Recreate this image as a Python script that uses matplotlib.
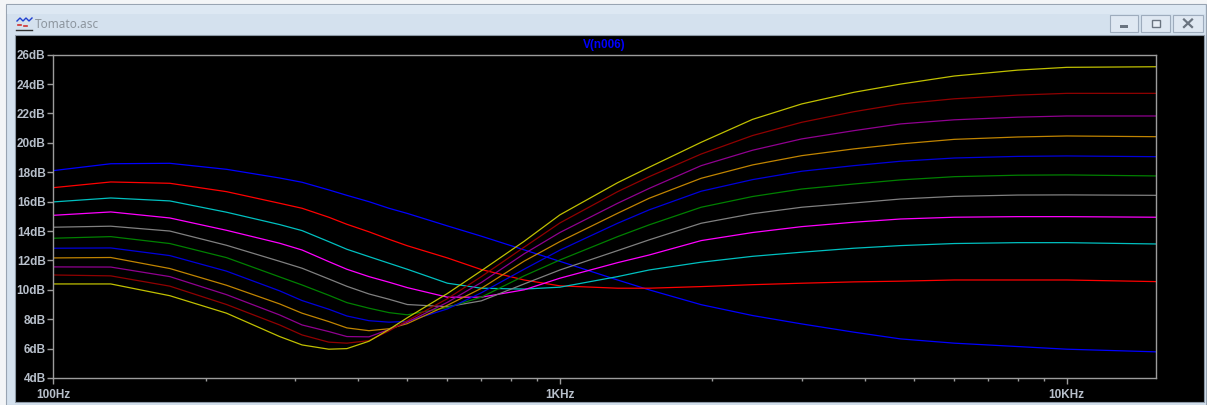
import matplotlib.pyplot as plt
from matplotlib.patches import Rectangle
from matplotlib.lines import Line2D
from matplotlib.ticker import FixedLocator, NullFormatter

plt.rcParams['font.family'] = ['Liberation Sans', 'DejaVu Sans']

# ---- data (dB vs Hz), one list per .step run ----
freq = [100, 130, 170, 220, 280, 310, 350, 380, 420, 460, 500, 600, 700, 850,
        1000, 1300, 1500, 1900, 2400, 3000, 3800, 4700, 6000, 8000, 10000, 15000]

step01 = [18.11, 18.58, 18.61, 18.20, 17.61, 17.32, 16.80, 16.43, 16.00, 15.55, 15.20,
          14.35, 13.65, 12.72, 11.94, 10.67, 10.00, 8.99, 8.25, 7.68, 7.12, 6.66,
          6.37, 6.14, 5.96, 5.78]
step02 = [16.95, 17.34, 17.25, 16.68, 15.89, 15.55, 14.94, 14.46, 13.95, 13.44, 13.00,
          12.17, 11.38, 10.67, 10.27, 10.11, 10.11, 10.22, 10.35, 10.45, 10.54, 10.59,
          10.67, 10.67, 10.67, 10.56]
step03 = [15.98, 16.25, 16.05, 15.28, 14.44, 14.03, 13.28, 12.76, 12.26, 11.81, 11.40,
          10.45, 10.11, 10.05, 10.18, 10.90, 11.35, 11.88, 12.28, 12.56, 12.83, 13.01,
          13.15, 13.21, 13.21, 13.12]
step04 = [15.07, 15.30, 14.89, 14.05, 13.17, 12.71, 11.92, 11.40, 10.90, 10.52, 10.15,
          9.50, 9.50, 10.00, 10.79, 11.85, 12.37, 13.35, 13.90, 14.30, 14.60, 14.82,
          14.94, 14.98, 14.98, 14.94]
step05 = [14.26, 14.33, 14.00, 13.03, 11.94, 11.47, 10.74, 10.24, 9.72, 9.36, 9.00,
          8.85, 9.25, 10.40, 11.35, 12.67, 13.40, 14.53, 15.18, 15.62, 15.91, 16.18,
          16.36, 16.45, 16.46, 16.43]
step06 = [13.51, 13.62, 13.15, 12.19, 10.88, 10.33, 9.63, 9.13, 8.75, 8.45, 8.30,
          8.80, 9.50, 10.95, 12.03, 13.62, 14.42, 15.62, 16.35, 16.86, 17.20, 17.48,
          17.70, 17.80, 17.82, 17.75]
step07 = [12.83, 12.85, 12.33, 11.27, 9.93, 9.27, 8.68, 8.22, 7.90, 7.80, 7.85,
          8.70, 9.80, 11.40, 12.70, 14.53, 15.44, 16.71, 17.50, 18.07, 18.45, 18.75,
          18.97, 19.08, 19.11, 19.06]
step08 = [12.17, 12.20, 11.45, 10.31, 9.04, 8.41, 7.84, 7.41, 7.22, 7.35, 7.70,
          8.95, 10.10, 11.95, 13.28, 15.21, 16.23, 17.59, 18.50, 19.13, 19.59, 19.93,
          20.24, 20.40, 20.47, 20.42]
step09 = [11.56, 11.55, 10.90, 9.67, 8.29, 7.61, 7.16, 6.82, 6.80, 7.30, 7.80,
          9.15, 10.50, 12.45, 13.90, 15.89, 16.90, 18.45, 19.50, 20.27, 20.83, 21.29,
          21.57, 21.75, 21.83, 21.83]
step10 = [11.01, 10.95, 10.25, 9.00, 7.61, 6.93, 6.44, 6.37, 6.54, 7.20, 7.90,
          9.40, 10.90, 12.90, 14.55, 16.68, 17.70, 19.24, 20.50, 21.40, 22.12, 22.65,
          23.00, 23.25, 23.37, 23.37]
step11 = [10.40, 10.40, 9.60, 8.41, 6.82, 6.25, 5.96, 6.00, 6.50, 7.30, 8.10,
          9.75, 11.30, 13.30, 15.10, 17.29, 18.34, 20.04, 21.60, 22.65, 23.44, 24.00,
          24.55, 24.95, 25.14, 25.18]

steps = [step01, step02, step03, step04, step05, step06,
         step07, step08, step09, step10, step11]
colors = ['#0000ff', '#ff0000', '#00c0c0', '#ff00ff', '#808080', '#008000',
          '#0000dc', '#c08400', '#900090', '#900000', '#c0c000']

xticks = [100, 1000, 10000]
xlabels = ['100Hz', '1KHz', '10KHz']
xminor = [200, 300, 400, 500, 600, 700, 800, 900,
          2000, 3000, 4000, 5000, 6000, 7000, 8000, 9000]
yticks = list(range(4, 27, 2))

W, H = 1207, 405


def box(x0, y0, x1, y1):
    # pixel box (top-left origin) -> figure fraction
    return (x0 / W, 1 - y1 / H), (x1 - x0) / W, (y1 - y0) / H


def rect(x0, y0, x1, y1, fc, ec='none', lw=0.8):
    xy, w, h = box(x0, y0, x1, y1)
    fig.add_artist(Rectangle(xy, w, h, transform=fig.transFigure,
                             facecolor=fc, edgecolor=ec, lw=lw, zorder=-2))


def pline(xs, ys, color, lw=1.0):
    fig.add_artist(Line2D([x / W for x in xs], [1 - y / H for y in ys],
                          transform=fig.transFigure, color=color, lw=lw, zorder=-1))


fig = plt.figure(figsize=(W / 100, H / 100), dpi=100, facecolor='#f3f5f7')

# window frame + title bar
rect(6, 4, 1206, 405, '#d4e1ee', ec='#98a4b2')
rect(7, 5, 1205, 14, '#dde8f3')
rect(15, 35, 1204, 402, 'black', ec='#8d99a6')

# little waveform icon
pline([17, 20, 23, 26, 29, 32], [21, 18, 21, 18, 21, 18], '#2040d0', 1.0)
pline([18, 21], [25, 25], '#d03030', 1.2)
pline([24, 27], [26, 26], '#d03030', 1.2)
pline([16, 32], [30, 30], '#303030', 1.0)
fig.text(35 / W, 1 - 24.5 / H, 'Tomato.asc', color='#8d969f', fontsize=8.5,
         family='Noto Sans', va='center', ha='left')

# window buttons
for x0, x1 in [(1110, 1138), (1141, 1170), (1173, 1203)]:
    rect(x0, 15, x1, 32, '#dfe8f2', ec='#9eacbd')
rect(1120, 25, 1128, 27.5, '#6a7480')
rect(1152, 20, 1160, 27, '#e8eef5', ec='#6a7480', lw=1.0)
pline([1184, 1192], [19.5, 27], '#6a7480', 1.6)
pline([1184, 1192], [27, 19.5], '#6a7480', 1.6)

# plot
ax = fig.add_axes([53 / W, 1 - 378 / H, (1156 - 53) / W, (378 - 54.7) / H])
ax.set_zorder(5)
ax.set_facecolor('black')
for vals, col in zip(steps, colors):
    ax.plot(freq, vals, color=col, lw=0.9)

ax.set_xscale('log')
ax.set_xlim(100, 15000)
ax.set_ylim(4, 26)
ax.set_xticks(xticks)
ax.set_xticklabels(xlabels)
ax.xaxis.set_minor_locator(FixedLocator(xminor))
ax.xaxis.set_minor_formatter(NullFormatter())
ax.set_yticks(yticks)
ax.set_yticklabels([f'{v}dB' for v in yticks])
ax.yaxis.set_minor_locator(FixedLocator([]))

for s in ax.spines.values():
    s.set_color('#9c9c9c')
    s.set_linewidth(1.0)

lab = '#b7bfca'
ax.tick_params(axis='y', which='major', direction='out', length=4.5, width=1,
               color='#9c9c9c', labelcolor=lab, labelsize=8.5, pad=0.8)
ax.tick_params(axis='x', which='major', direction='out', length=4.5, width=1,
               color='#9c9c9c', labelcolor=lab, labelsize=8.5, pad=3.5)
ax.tick_params(axis='x', which='minor', direction='out', length=2.3, width=1,
               color='#9c9c9c')
for t in ax.get_xticklabels() + ax.get_yticklabels():
    t.set_fontweight('bold')

fig.text(604.5 / W, 1 - 45 / H, 'V(n006)', color='#0000ff', fontsize=8.5,
         fontweight='bold', ha='center', va='center', zorder=6)

fig.savefig('out.png', dpi=100, facecolor=fig.get_facecolor())
